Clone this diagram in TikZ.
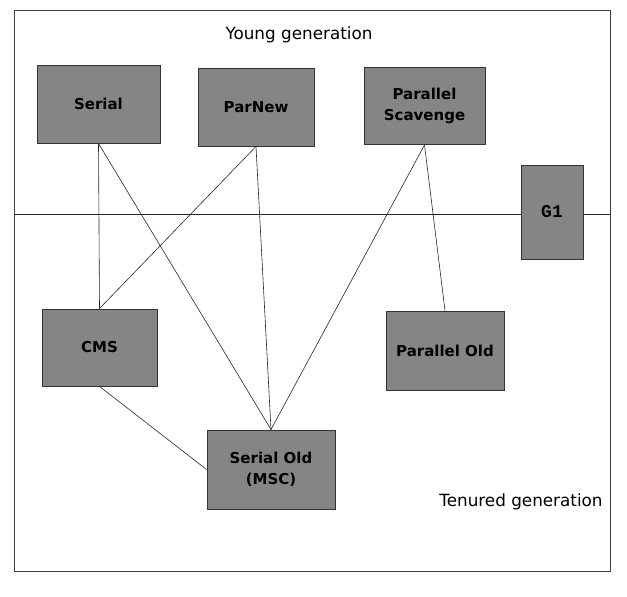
\documentclass[tikz,border=0pt]{standalone}
\usepackage{fontspec}
\setmainfont{DejaVu Sans}
\newfontfamily\gfont{Liberation Mono}
\begin{document}
\begin{tikzpicture}[x=1pt,y=-1pt,
  gc/.style={draw=black!80, line width=0.9pt, fill=black!48, inner sep=0pt, font=\bfseries\fontsize{15}{20.5}\selectfont, align=center},
  conn/.style={draw=black!85, line width=0.6pt},
  frame/.style={draw=black!75, line width=0.8pt},
  lbl/.style={font=\fontsize{16.8}{19}\selectfont, inner sep=0pt}]
\useasboundingbox (0,0) rectangle (627,597);
\draw[frame] (14,10) rectangle (610,571);
\node[lbl] (young) at (299,35) {Young generation};
\node[lbl] (tenured) at (521,502) {Tenured generation};
% boxes
\node[gc, minimum width=123pt, minimum height=78pt] (serial) at (98.5,104) {Serial};
\node[gc, minimum width=116pt, minimum height=78pt] (parnew) at (256,107) {ParNew};
\node[gc, minimum width=121pt, minimum height=77pt] (ps) at (424.5,106) {Parallel\\Scavenge};
\node[gc, minimum width=62pt, minimum height=94pt, font=\gfont\bfseries\fontsize{18}{20}\selectfont] (g1) at (552,212) {G1};
\node[gc, minimum width=115pt, minimum height=77pt] (cms) at (99.5,347.5) {CMS};
\node[gc, minimum width=118pt, minimum height=79pt] (pold) at (445,350.5) {Parallel Old};
\node[gc, minimum width=128pt, minimum height=79pt] (sold) at (271,469.5) {Serial Old\\(MSC)};
% divider
\coordinate (dl) at (14,214);
\coordinate (dr) at (610,214);
\draw[conn] (dl) -- (g1.west |- dl);
\draw[conn] (g1.east |- dr) -- (dr);
% connectors
\draw[conn] (serial.south) -- (cms.north);
\draw[conn] (serial.south) -- (sold.north);
\draw[conn] (parnew.south) -- (cms.north);
\draw[conn] (parnew.south) -- (sold.north);
\draw[conn] (ps.south) -- (sold.north);
\draw[conn] (ps.south) -- (pold.north);
\draw[conn] (cms.south) -- (sold.west);
\end{tikzpicture}
\end{document}
